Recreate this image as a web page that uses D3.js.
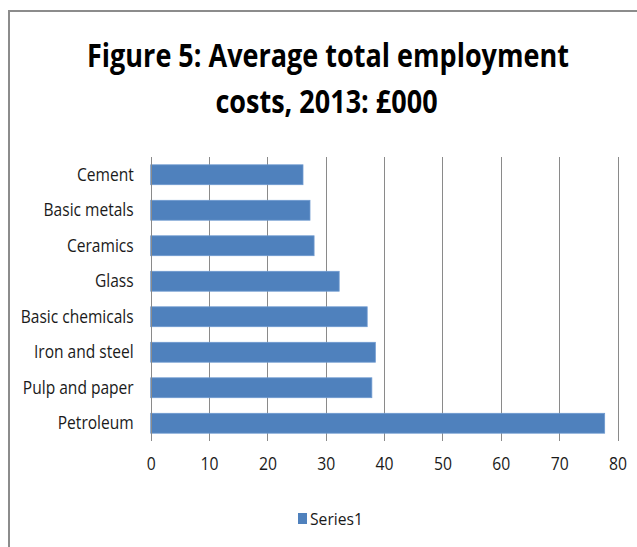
<!DOCTYPE html>
<html>
<head>
<meta charset="utf-8">
<script src="https://cdn.jsdelivr.net/npm/d3@7"></script>
<style>
  html, body { margin: 0; padding: 0; background: #fff; }
  svg text { font-family: "Open Sans", "Liberation Sans", sans-serif; fill: #1a1a1a; }
</style>
</head>
<body>
<svg id="chart" width="637" height="547"></svg>
<script>
// Average total employment costs per sector, 2013 (£000)
const categories = ["Cement", "Basic metals", "Ceramics", "Glass", "Basic chemicals", "Iron and steel", "Pulp and paper", "Petroleum"];
const values = [26.1, 27.3, 28.0, 32.3, 37.1, 38.5, 37.9, 77.8];
const xTicks = [0, 10, 20, 30, 40, 50, 60, 70, 80];
const titleLines = ["Figure 5: Average total employment", "costs, 2013: £000"];
const seriesName = "Series1";

const svg = d3.select("#chart");
const barColor = "#4f81bd";

// Narrow the glyphs of a text selection by a fixed horizontal factor
function condense(sel, factor) {
  sel.each(function () {
    const w = this.getComputedTextLength();
    d3.select(this).attr("textLength", w * factor).attr("lengthAdjust", "spacingAndGlyphs");
  });
}
// Factor that makes a sample string a given width at a given style
function factorFor(sample, size, weight, width) {
  const t = svg.append("text").style("font-size", size).style("font-weight", weight).text(sample);
  const f = width / t.node().getComputedTextLength();
  t.remove();
  return f;
}

// Chart area frame
svg.append("rect")
  .attr("x", 9).attr("y", 11)
  .attr("width", 700).attr("height", 600)
  .attr("fill", "none")
  .attr("stroke", "#8c8c8c")
  .attr("stroke-width", 2);

// Title, drawn in a horizontally condensed group
const titleFactor = factorFor(titleLines[0], "32px", "bold", 482);
svg.append("g")
  .attr("transform", `scale(${titleFactor},1)`)
  .selectAll("text")
  .data(titleLines)
  .join("text")
  .attr("x", (d, i) => (i === 0 ? 328 : 326.5) / titleFactor)
  .attr("y", (d, i) => 67 + i * 46)
  .attr("text-anchor", "middle")
  .style("font-size", "32px")
  .style("font-weight", "bold")
  .style("fill", "#000")
  .text(d => d);

const x = d3.scaleLinear().domain([0, 80]).range([150.7, 617.5]);
const y = d3.scaleBand().domain(categories).range([157, 441])
  .paddingInner(0.44).paddingOuter(0.22);

// Vertical gridlines
svg.append("g").selectAll("line")
  .data(xTicks)
  .join("line")
  .attr("x1", d => Math.round(x(d)) + 0.5)
  .attr("x2", d => Math.round(x(d)) + 0.5)
  .attr("y1", 157).attr("y2", 441)
  .attr("stroke", "#8a8a8a")
  .attr("stroke-width", 1);

// Bars
svg.append("g").selectAll("rect")
  .data(categories)
  .join("rect")
  .attr("x", x(0))
  .attr("y", d => y(d))
  .attr("width", (d, i) => x(values[i]) - x(0))
  .attr("height", y.bandwidth())
  .attr("fill", barColor)
  .attr("stroke", "#6f9ad0")
  .attr("stroke-width", 0.8);

// Category axis line
svg.append("line")
  .attr("x1", Math.round(x(0)) + 0.5).attr("x2", Math.round(x(0)) + 0.5)
  .attr("y1", 157).attr("y2", 441)
  .attr("stroke", "#8a8a8a");

// Category labels
const labelFactor = factorFor("Basic chemicals", "18.5px", "normal", 113);
const yAxis = d3.axisLeft(y).tickSize(0).tickPadding(17);
const gy = svg.append("g").attr("transform", `translate(${x(0)},0)`).call(yAxis);
gy.select(".domain").remove();
gy.selectAll("text").style("font-size", "18.5px").attr("fill", "#1a1a1a").call(condense, labelFactor);

// Value axis labels
const tickFactor = factorFor("80", "18px", "normal", 18);
const xAxis = d3.axisBottom(x).tickValues(xTicks).tickSize(0).tickPadding(16);
const gx = svg.append("g").attr("transform", "translate(0,441)").call(xAxis);
gx.select(".domain").remove();
gx.selectAll("text").style("font-size", "18px").attr("fill", "#1a1a1a").call(condense, tickFactor);

// Legend
const legendFactor = factorFor(seriesName, "17px", "normal", 53);
const legend = svg.append("g").attr("transform", "translate(298,513)");
legend.append("rect").attr("x", 0).attr("y", 0).attr("width", 9).attr("height", 11).attr("fill", barColor);
legend.append("text").attr("x", 12).attr("y", 12).style("font-size", "17px").text(seriesName).call(condense, legendFactor);
</script>
</body>
</html>
